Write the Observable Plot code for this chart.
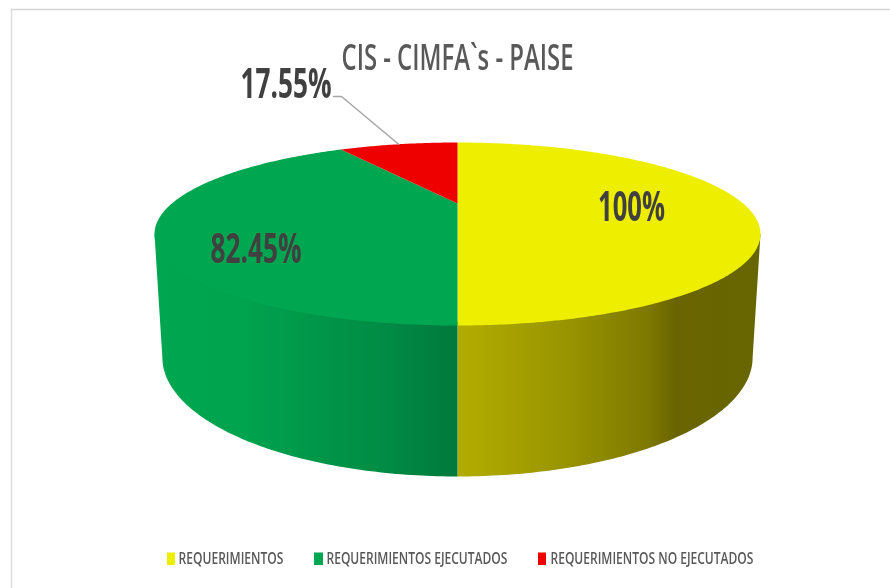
<!DOCTYPE html>
<html>
<head>
<meta charset="utf-8">
<script src="https://cdn.jsdelivr.net/npm/d3@7"></script>
<script src="https://cdn.jsdelivr.net/npm/@observablehq/plot@0.6"></script>
<style>html,body{margin:0;padding:0;background:#fff}svg{display:block;filter:blur(.4px)}</style>
</head>
<body>
<div id="chart"></div>
<script>
const chartTitle = "CIS - CIMFA`s - PAISE";
const categories = ["REQUERIMIENTOS", "REQUERIMIENTOS EJECUTADOS", "REQUERIMIENTOS NO EJECUTADOS"];
const values = [100, 82.45, 17.55];
const valueLabels = ["100%", "82.45%", "17.55%"];
const colors = ["#eeee00", "#00a650", "#ee0000"];
const greenSideStops = [[0, "#00a650"], [0.3, "#00a34e"], [0.5, "#00984a"], [0.75, "#008c44"], [0.9, "#008040"], [1, "#007a3c"]];
const yellowSideStops = [[0, "#b3ad00"], [0.35, "#999500"], [0.62, "#7f7a00"], [0.72, "#6a6400"], [1, "#666600"]];

// Layout: model units are the top rim of the pie (-1..1 in each axis)
const tiltShift = 1 / 3;                 // perspective displacement of the pie's centre
const bottomRim = {cy: 1.35, rx: 0.974, ry: 1.30};
const toU = (px) => (px - 457) / 303;
const toV = (py) => (py - 233.5) / 91.5;

// Perspective projection of a pie angle (clockwise from the top, radians) on the rim
function rim(theta) {
  const k = 1 + tiltShift * Math.cos(theta);
  return {
    x: Math.sin(theta) * Math.sqrt(1 - tiltShift * tiltShift) / k,
    y: (-Math.cos(theta) - tiltShift) / k
  };
}

const total = d3.sum(values);
let acc = 0;
const slices = categories.map((cat, i) => {
  const a0 = acc / total * 2 * Math.PI;
  acc += values[i];
  const a1 = acc / total * 2 * Math.PI;
  return {cat, a0, a1, mid: (a0 + a1) / 2};
});

const apex = {x: 0, y: -tiltShift};
const topPts = slices.flatMap((s) => {
  const n = Math.max(2, Math.ceil((s.a1 - s.a0) * 90));
  const arc = d3.range(n + 1).map((j) => rim(s.a0 + (s.a1 - s.a0) * j / n));
  return [apex, ...arc].map((p) => ({...p, cat: s.cat}));
});

// The wall's upper edge runs just under the top face so no seam shows between them
function side(sign) {
  const ts = d3.range(0, 91).map((d) => d * Math.PI / 180);
  const upper = ts.map((t) => ({x: sign * 0.98 * Math.sin(t), y: 0.96 * Math.cos(t)}));
  const lower = ts.slice().reverse().map((t) => ({
    x: sign * bottomRim.rx * Math.sin(t),
    y: bottomRim.cy + bottomRim.ry * Math.cos(t)
  }));
  return [...upper, {x: sign, y: 0}, ...lower];
}

const gradient = (id, stops) =>
  `<linearGradient id="${id}" x1="0" x2="1" y1="0" y2="0">` +
  stops.map(([o, c]) => `<stop offset="${o}" stop-color="${c}"/>`).join("") +
  `</linearGradient>`;

const defsMark = () => {
  const g = document.createElementNS("http://www.w3.org/2000/svg", "defs");
  g.innerHTML = gradient("greenSide", greenSideStops) + gradient("yellowSide", yellowSideStops);
  return g;
};

// Leader line from the small slice's label to the middle of its arc
const redMid = rim(slices[2].mid);
const leader = [{x: toU(333), y: toV(96)}, {x: toU(341), y: toV(96)}, redMid];

const valueText = [
  {text: valueLabels[0], x: toU(631), y: toV(207), width: 67},
  {text: valueLabels[1], x: toU(255.5), y: toV(249), width: 91},
  {text: valueLabels[2], x: toU(285.5), y: toV(84), width: 91}
];

const legendLayout = [
  {swatch: 167, swatchW: 8, text: 178, width: 105},
  {swatch: 314, swatchW: 9, text: 326, width: 181},
  {swatch: 538, swatchW: 8, text: 550, width: 203}
].map((d, i) => ({...d, cat: categories[i]}));

const textWidths = new Map([
  [chartTitle, 232],
  ...valueText.map((d) => [d.text, d.width]),
  ...legendLayout.map((d) => [d.cat, d.width])
]);

const plot = Plot.plot({
  width: 890,
  height: 588,
  margin: 0,
  x: {domain: [-1, 1], range: [154, 760], axis: null},
  y: {domain: [-1, 1], range: [142, 325], axis: null},
  color: {domain: categories, range: colors},
  style: {background: "#fff", fontFamily: "'Open Sans', sans-serif"},
  marks: [
    defsMark,
    Plot.ruleX([toU(11)], {y1: toV(9), y2: toV(588), stroke: "#dcdcdc", strokeWidth: 1.5}),
    Plot.ruleY([toV(9)], {x1: toU(11), x2: toU(890), stroke: "#d6d6d6", strokeWidth: 1.5}),
    Plot.line(side(1), {x: "x", y: "y", fill: "url(#yellowSide)", stroke: "none"}),
    Plot.line(side(-1), {x: "x", y: "y", fill: "url(#greenSide)", stroke: "none"}),
    Plot.line(topPts, {x: "x", y: "y", z: "cat", fill: "cat", stroke: "none"}),
    Plot.line(leader, {x: "x", y: "y", stroke: "#a6a6a6", strokeWidth: 1.5}),
    Plot.text(valueText, {
      x: "x", y: "y", text: "text",
      fontSize: 42, fontWeight: 700, fill: "#404040"
    }),
    Plot.text([chartTitle], {
      x: [toU(457)], y: [toV(58)], text: (d) => d,
      fontSize: 36, fontWeight: 600, fill: "#595959"
    }),
    Plot.rect(legendLayout, {
      x1: (d) => toU(d.swatch), x2: (d) => toU(d.swatch + d.swatchW),
      y1: toV(552.5), y2: toV(565), fill: "cat"
    }),
    Plot.text(legendLayout, {
      x: (d) => toU(d.text), y: toV(558.5), text: "cat", textAnchor: "start",
      fontSize: 16, fontWeight: 600, fill: "#595959"
    })
  ]
});

document.getElementById("chart").append(plot);

// Narrow the text to the reference's squeezed proportions
function squeeze() {
  plot.querySelectorAll("text").forEach((t) => {
    const w = textWidths.get(t.textContent);
    if (!w) return;
    const natural = t.getComputedTextLength();
    const base = t.dataset.baseTransform ?? (t.dataset.baseTransform = t.getAttribute("transform") || "");
    t.setAttribute("transform", `${base} scale(${w / natural},1)`);
  });
}
squeeze();
if (document.fonts && document.fonts.ready) document.fonts.ready.then(squeeze);
</script>
</body>
</html>
